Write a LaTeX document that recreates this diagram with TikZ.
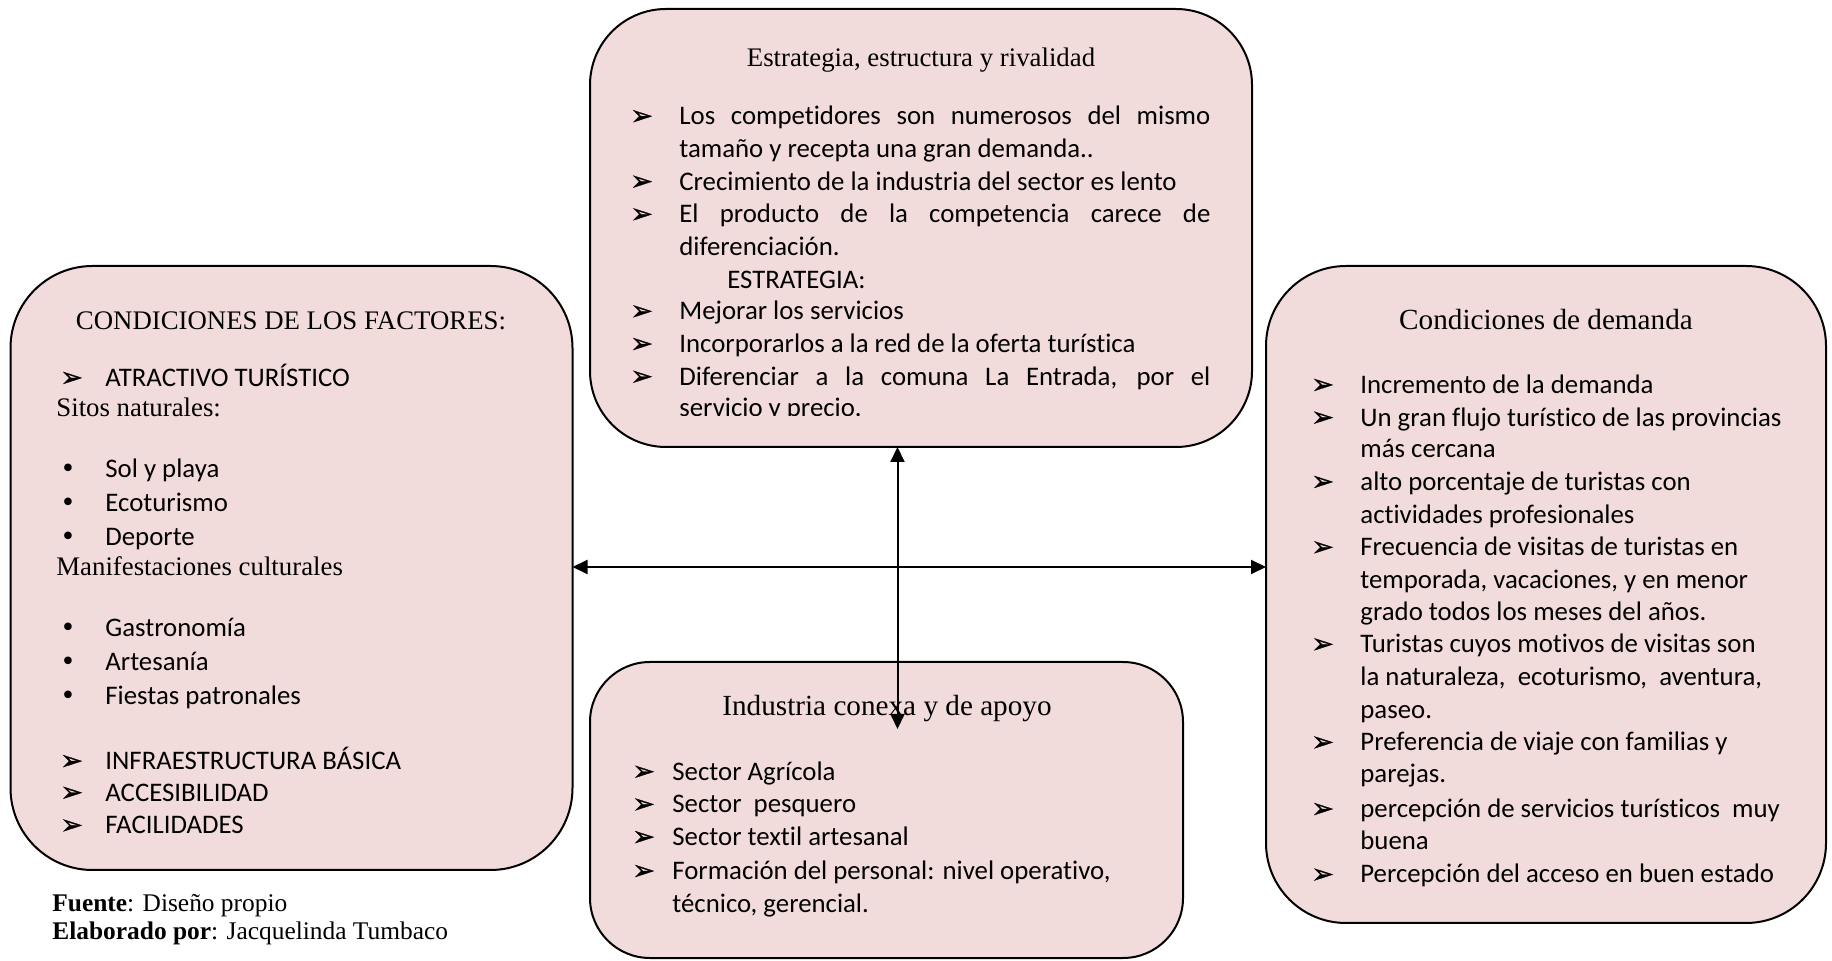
\documentclass[tikz,border=0pt]{standalone}
\usepackage{fontspec}
\setmainfont{Liberation Serif}
\newfontfamily\bodyfont[Ligatures=NoCommon]{Carlito}
\newfontfamily\symfont{DejaVu Sans}
\newfontface\ptrfont[FakeBold=1.2]{DejaVu Sans}
\usetikzlibrary{arrows.meta}

\definecolor{boxpink}{HTML}{F2DCDB}

\tikzset{
  panel/.style={draw=black, line width=1pt, fill=boxpink, outer sep=0pt, anchor=north west},
  txt/.style={anchor=base west, inner sep=0pt, yshift=-1pt, font=\bodyfont\fontsize{13.4}{16}\selectfont},
  serif/.style={anchor=base west, inner sep=0pt, font=\fontsize{13.4}{16}\selectfont},
  head/.style={anchor=base, inner sep=0pt},
  pointer/.style={anchor=base west, inner sep=0pt, yshift=-1pt, font=\ptrfont\fontsize{13.5}{16}\selectfont},
  dotbullet/.style={anchor=base west, inner sep=0pt, yshift=-1pt, font=\symfont\fontsize{13}{16}\selectfont},
  link/.style={line width=1pt, {Triangle[length=7.5pt,width=7pt]}-{Triangle[length=7.5pt,width=7pt]}}
}

\begin{document}
\begin{tikzpicture}[x=0.5pt,y=-0.5pt]
\useasboundingbox (0,0) rectangle (1832,961);

% ---------- panels ----------
\node[panel, rounded corners=38pt, minimum width=331pt, minimum height=219pt] (top) at (590,9) {};
\node[panel, rounded corners=41pt, minimum width=281pt, minimum height=302pt] (left) at (10.5,266) {};
\node[panel, rounded corners=40pt, minimum width=280pt, minimum height=328.5pt] (right) at (1266,266) {};
\node[panel, rounded corners=30pt, minimum width=296.5pt, minimum height=148pt] (bottom) at (590,662) {};

% ---------- Estrategia, estructura y rivalidad ----------
\node[head, font=\fontsize{13.4}{16}\selectfont] (topT) at (921,67) {Estrategia, estructura y rivalidad};
\node[pointer] (ta1) at (630,122.7) {➢};
\node[txt] (t1) at (679,122.7) {\makebox[265.5pt][s]{Los competidores son numerosos del mismo}};
\node[txt] (t2) at (679,155.4) {tamaño y recepta una gran demanda..};
\node[pointer] (ta3) at (630,188.1) {➢};
\node[txt] (t3) at (679,188.1) {Crecimiento de la industria del sector es lento};
\node[pointer] (ta4) at (630,220.8) {➢};
\node[txt] (t4) at (679,220.8) {\makebox[265.5pt][s]{El producto de la competencia carece de}};
\node[txt] (t5) at (679,253.5) {diferenciación.};
\node[txt] (t6) at (727,286.3) {ESTRATEGIA:};
\node[pointer] (ta7) at (630,317.8) {➢};
\node[txt] (t7) at (679,317.8) {Mejorar los servicios};
\node[pointer] (ta8) at (630,350.5) {➢};
\node[txt] (t8) at (679,350.5) {Incorporarlos a la red de la oferta turística};
\node[pointer] (ta9) at (630,383.2) {➢};
\node[txt] (t9) at (679,383.2) {\makebox[265.5pt][s]{Diferenciar a la comuna La Entrada, por el}};
% the last line is cut off by the text frame
\begin{scope}
  \clip (590,300) rectangle (1252,415.5);
  \node[txt] (t10) at (679,415) {servicio y precio.};
\end{scope}

% ---------- CONDICIONES DE LOS FACTORES ----------
\node[head, font=\fontsize{13.4}{16}\selectfont] (leftT) at (291,329.5) {CONDICIONES DE LOS FACTORES:};
\node[pointer] (la1) at (60,384.4) {➢};
\node[txt] (l1) at (105,384.4) {ATRACTIVO TURÍSTICO};
\node[serif] (l2) at (56,417.0) {Sitos naturales:};
\node[dotbullet] (lb3) at (60,475.5) {•};
\node[txt] (l3) at (105,475.5) {Sol y playa};
\node[dotbullet] (lb4) at (60,509.4) {•};
\node[txt] (l4) at (105,509.4) {Ecoturismo};
\node[dotbullet] (lb5) at (60,543.3) {•};
\node[txt] (l5) at (105,543.3) {Deporte};
\node[serif] (l6) at (56,575.9) {Manifestaciones culturales};
\node[dotbullet] (lb7) at (60,634.4) {•};
\node[txt] (l7) at (105,634.4) {Gastronomía};
\node[dotbullet] (lb8) at (60,668.3) {•};
\node[txt] (l8) at (105,668.3) {Artesanía};
\node[dotbullet] (lb9) at (60,702.2) {•};
\node[txt] (l9) at (105,702.2) {Fiestas patronales};
\node[pointer] (la10) at (60,767.6) {➢};
\node[txt] (l10) at (105,767.6) {INFRAESTRUCTURA BÁSICA};
\node[pointer] (la11) at (60,799.2) {➢};
\node[txt] (l11) at (105,799.2) {ACCESIBILIDAD};
\node[pointer] (la12) at (60,831.9) {➢};
\node[txt] (l12) at (105,831.9) {FACILIDADES};

% ---------- Condiciones de demanda ----------
\node[head, font=\fontsize{14.6}{16}\selectfont] (rightT) at (1546,329.5) {Condiciones de demanda};
\node[pointer] (ra1) at (1311,391.4) {➢};
\node[txt] (r1) at (1360,391.4) {Incremento de la demanda};
\node[pointer] (ra2) at (1311,424.1) {➢};
\node[txt] (r2) at (1360,424.1) {Un gran flujo turístico de las provincias};
\node[txt] (r3) at (1360,455.7) {más cercana};
\node[pointer] (ra4) at (1311,488.4) {➢};
\node[txt] (r4) at (1360,488.4) {alto porcentaje de turistas con};
\node[txt] (r5) at (1360,521.1) {actividades profesionales};
\node[pointer] (ra6) at (1311,553.8) {➢};
\node[txt] (r6) at (1360,553.8) {Frecuencia de visitas de turistas en};
\node[txt] (r7) at (1360,586.5) {temporada, vacaciones, y en menor};
\node[txt] (r8) at (1360,618.1) {grado todos los meses del años.};
\node[pointer] (ra9) at (1311,650.8) {➢};
\node[txt] (r9) at (1360,650.8) {Turistas cuyos motivos de visitas son};
\node[txt] (r10) at (1360,683.5) {la naturaleza,\ \ ecoturismo,\ \ aventura,};
\node[txt] (r11) at (1360,716.2) {paseo.};
\node[pointer] (ra12) at (1311,748.9) {➢};
\node[txt] (r12) at (1360,748.9) {Preferencia de viaje con familias y};
\node[txt] (r13) at (1360,780.5) {parejas.};
\node[pointer] (ra14) at (1311,815.5) {➢};
\node[txt] (r14) at (1360,815.5) {percepción de servicios turísticos\ \ muy};
\node[txt] (r15) at (1360,847.1) {buena};
\node[pointer] (ra16) at (1311,881.0) {➢};
\node[txt] (r16) at (1360,881.0) {Percepción del acceso en buen estado};

% ---------- Industria conexa y de apoyo ----------
\node[head, font=\fontsize{14.6}{16}\selectfont] (bottomT) at (887,716) {Industria conexa y de apoyo};
\node[pointer] (ba1) at (632,778.2) {➢};
\node[txt] (b1) at (672,778.2) {Sector Agrícola};
\node[pointer] (ba2) at (632,810.9) {➢};
\node[txt] (b2) at (672,810.9) {Sector\ \ pesquero};
\node[pointer] (ba3) at (632,843.6) {➢};
\node[txt] (b3) at (672,843.6) {Sector textil artesanal};
\node[pointer] (ba4) at (632,877.5) {➢};
\node[txt] (b4) at (672,877.5) {Formación del personal: nivel operativo,};
\node[txt] (b5) at (672,910.2) {técnico, gerencial.};

% ---------- source note ----------
\node[serif, font=\fontsize{12.7}{15}\selectfont] (src) at (52,912) {\textbf{Fuente}: Diseño propio};
\node[serif, font=\fontsize{12.7}{15}\selectfont] (auth) at (52,940) {\textbf{Elaborado por}: Jacquelinda Tumbaco};

% ---------- connectors ----------
\coordinate (hy) at (0,567);
\coordinate (vx) at (897.5,0);
\coordinate (vend) at (897.5,729);
\draw[link] (left.east |- hy) -- (right.west |- hy);
\draw[link] (top.south -| vx) -- (vend);
\end{tikzpicture}
\end{document}
